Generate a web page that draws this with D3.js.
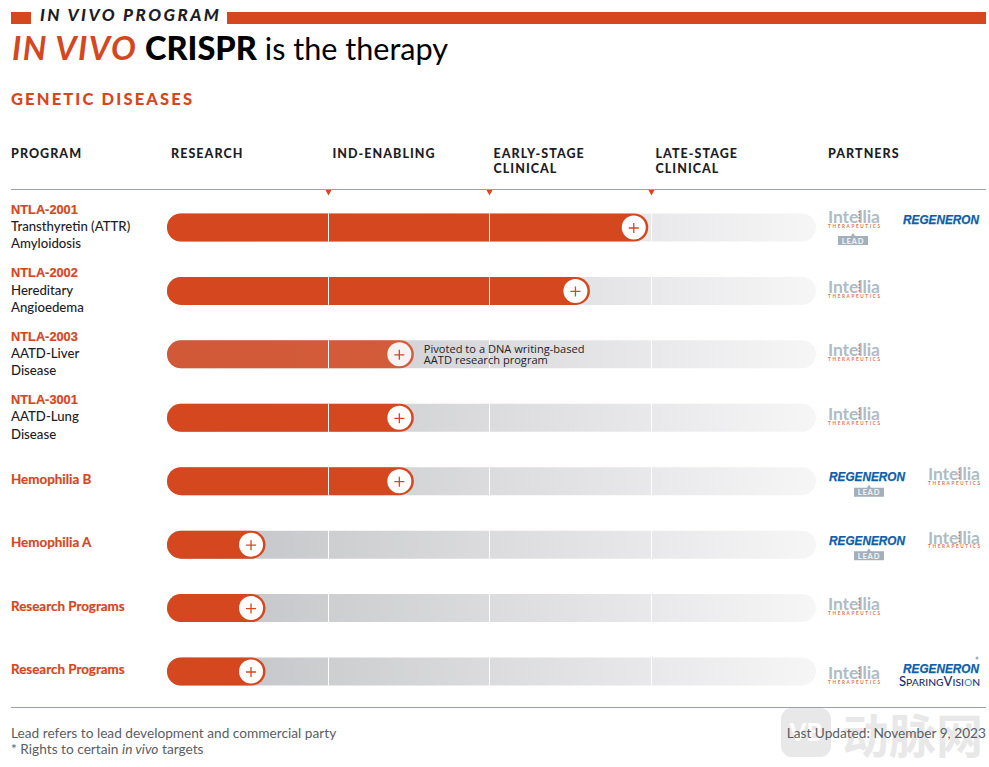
<!DOCTYPE html>
<html>
<head>
<meta charset="utf-8">
<script src="https://cdn.jsdelivr.net/npm/d3@7"></script>
<style>
  html, body { margin: 0; padding: 0; background: #fff; }
  svg { display: block; }
  text { font-family: Lato, sans-serif; }
</style>
</head>
<body>
<svg id="chart"></svg>
<script>
const stages = ['RESEARCH', 'IND-ENABLING', 'EARLY-STAGE|CLINICAL', 'LATE-STAGE|CLINICAL'];
const programs = ['NTLA-2001', 'NTLA-2002', 'NTLA-2003', 'NTLA-3001', 'Hemophilia B', 'Hemophilia A', 'Research Programs', 'Research Programs'];
const indications = ['Transthyretin (ATTR)|Amyloidosis', 'Hereditary|Angioedema', 'AATD-Liver|Disease', 'AATD-Lung|Disease', '', '', '', ''];
// progress in stage units, 1 = end of research, 2 = end of IND-enabling ...
const progress = [2.98, 2.62, 1.53, 1.53, 1.53, 0.61, 0.61, 0.61];
const pivoted = [false, false, true, false, false, false, false, false];
const leftPartner = ['Intellia', 'Intellia', 'Intellia', 'Intellia', 'Regeneron', 'Regeneron', 'Intellia', 'Intellia'];
const rightPartner = ['Regeneron', '', '', '', 'Intellia', 'Intellia', '', 'RegeneronSparing'];
const leadFlag = [true, false, false, false, true, true, false, false];
const pivotNote = ['Pivoted to a DNA writing-based', 'AATD research program'];
const footnotes = ['Lead refers to lead development and commercial party'];

const width = 989, height = 767;
const orange = '#d4471f', ink = '#1d1d25', rule = '#9ba1a8', grey = '#5a5e64';

const svg = d3.select('#chart').attr('width', width).attr('height', height);

const x = d3.scaleLinear().domain([0, 1, 2, 3, 4]).range([167, 328.5, 489.5, 651.5, 816]);
const y = d3.scalePoint().domain(d3.range(programs.length)).range([227.5, 671.5]);
const barH = 28;

const defs = svg.append('defs');
const grad = defs.append('linearGradient').attr('id', 'track')
  .attr('gradientUnits', 'userSpaceOnUse').attr('x1', x(0)).attr('x2', x(4));
grad.append('stop').attr('offset', 0).attr('stop-color', '#c0c1c4');
grad.append('stop').attr('offset', 1).attr('stop-color', '#f6f6f7');

// header
svg.append('rect').attr('x', 11).attr('y', 12).attr('width', 20).attr('height', 12).attr('fill', orange);
svg.append('rect').attr('x', 227).attr('y', 12).attr('width', 759).attr('height', 12).attr('fill', orange);
svg.append('text').attr('x', 40).attr('y', 21).text('IN VIVO PROGRAM')
  .attr('font-size', 17).attr('font-weight', 900).attr('font-style', 'italic')
  .attr('letter-spacing', 2.45).attr('fill', ink);

const title = svg.append('text').attr('x', 12).attr('y', 60).attr('fill', '#000');
title.append('tspan').text('IN VIVO').attr('fill', orange).attr('font-size', 33)
  .attr('font-style', 'italic').attr('font-weight', 700).attr('letter-spacing', 1.4);
title.append('tspan').text(' CRISPR').attr('font-size', 32.6).attr('font-weight', 900);
title.append('tspan').text(' is the therapy').attr('font-size', 30.6).attr('font-weight', 400);

svg.append('text').attr('x', 11).attr('y', 105).text('GENETIC DISEASES')
  .attr('font-size', 16.5).attr('font-weight', 900).attr('letter-spacing', 2.15).attr('fill', orange);

// column heads
const headStyle = s => s.attr('font-size', 12.5).attr('font-weight', 900).attr('letter-spacing', 1.05).attr('fill', ink);
headStyle(svg.append('text').attr('x', 11).attr('y', 158).text('PROGRAM'));
headStyle(svg.append('text').attr('x', 828).attr('y', 158).text('PARTNERS'));
stages.forEach((s, i) => {
  const t = headStyle(svg.append('text').attr('y', 158));
  s.split('|').forEach((line, j) => {
    t.append('tspan').attr('x', x(i) + 4).attr('y', 158 + j * 15).text(line);
  });
});

svg.append('line').attr('x1', 11).attr('x2', 986).attr('y1', 189.5).attr('y2', 189.5).attr('stroke', rule);
svg.append('line').attr('x1', 11).attr('x2', 986).attr('y1', 707.5).attr('y2', 707.5).attr('stroke', rule);

svg.selectAll('path.tick').data([1, 2, 3]).join('path')
  .attr('class', 'tick')
  .attr('d', d => `M${x(d) - 3},190L${x(d) + 3},190L${x(d)},195.5Z`)
  .attr('fill', orange);

// rows
const rows = svg.selectAll('g.row').data(programs).join('g').attr('class', 'row');

rows.append('rect').attr('class', 'track')
  .attr('x', x(0)).attr('width', x(4) - x(0))
  .attr('y', (d, i) => y(i) - barH / 2).attr('height', barH)
  .attr('rx', 14).attr('fill', 'url(#track)');

rows.append('rect').attr('class', 'bar')
  .attr('x', x(0)).attr('width', (d, i) => x(progress[i]) - x(0))
  .attr('y', (d, i) => y(i) - barH / 2).attr('height', barH)
  .attr('rx', 14).attr('fill', orange)
  .attr('opacity', (d, i) => pivoted[i] ? 0.85 : 1);

[1, 2, 3].forEach(s => {
  rows.append('line')
    .attr('x1', x(s)).attr('x2', x(s))
    .attr('y1', (d, i) => y(i) - barH / 2).attr('y2', (d, i) => y(i) + barH / 2)
    .attr('stroke', '#fff').attr('stroke-width', 1);
});

const knobX = i => x(progress[i]) - 14.5;
rows.append('circle')
  .attr('cx', (d, i) => knobX(i)).attr('cy', (d, i) => y(i)).attr('r', 12)
  .attr('fill', (d, i) => pivoted[i] ? '#f5f4f3' : '#fff');
rows.append('path')
  .attr('d', (d, i) => `M${knobX(i) - 5},${y(i) + 0.5}H${knobX(i) + 5}M${knobX(i)},${y(i) - 4.5}V${y(i) + 5.5}`)
  .attr('stroke', orange).attr('stroke-width', 1.3).attr('fill', 'none');

// row labels: NTLA codes are set in a plainer face than the disease names
rows.append('text')
  .attr('x', 11)
  .attr('y', (d, i) => indications[i] ? y(i) - 13.7 : y(i) + 2.8)
  .style('font-family', (d, i) => indications[i] ? '"Liberation Sans", sans-serif' : 'Lato, sans-serif')
  .attr('font-size', (d, i) => indications[i] ? 12.8 : 13.4)
  .attr('font-weight', 700)
  .attr('fill', orange).attr('stroke', orange).attr('stroke-width', 0.2)
  .text(d => d);

rows.each(function (d, i) {
  if (!indications[i]) return;
  indications[i].split('|').forEach((line, j) => {
    d3.select(this).append('text')
      .attr('x', 11).attr('y', y(i) + 3.7 + j * 17.2)
      .attr('font-size', 13.2).attr('font-weight', 500).attr('fill', ink)
      .text(line);
  });
});

// pivot note
svg.append('g').selectAll('text').data(pivotNote).join('text')
  .attr('x', x(progress[2]) + 10)
  .attr('y', (d, i) => y(2) + (i ? 9.5 : -1.5))
  .style('font-family', '"Open Sans", sans-serif')
  .attr('font-size', 11.1).attr('fill', ink)
  .text(d => d);

// partner logos, drawn as text. base = baseline of the main word
function intellia(g, px, base) {
  g.append('text').attr('x', px).attr('y', base).text('Intellia')
    .attr('font-size', 17.5).attr('font-weight', 700).attr('fill', '#aebcc6')
    .attr('textLength', 52).attr('lengthAdjust', 'spacing');
  g.append('g').selectAll('rect').data([-12, -9, -6, -3]).join('rect')
    .attr('x', px + 30.5).attr('y', d => base + d).attr('width', 1.6).attr('height', 1.6).attr('fill', '#e0714d');
  g.append('text').attr('x', px).attr('y', base + 4.8).text('THERAPEUTICS')
    .attr('font-size', 4.6).attr('font-weight', 700).attr('fill', '#e0714d').attr('textLength', 52);
}
function regeneron(g, px, base) {
  g.append('text').attr('x', px).attr('y', base).text('REGENERON')
    .style('font-family', '"Liberation Sans", sans-serif')
    .attr('font-size', 12.6).attr('font-weight', 700).attr('font-style', 'italic')
    .attr('fill', '#0c5ea8').attr('stroke', '#0c5ea8').attr('stroke-width', 0.25)
    .attr('textLength', 76).attr('lengthAdjust', 'spacingAndGlyphs');
}
function sparing(g, px, base) {
  const t = g.append('text').attr('x', px).attr('y', base)
    .attr('font-weight', 500).attr('fill', '#23306f')
    .attr('textLength', 81).attr('lengthAdjust', 'spacingAndGlyphs');
  t.append('tspan').text('S').attr('font-size', 12.5);
  t.append('tspan').text('PARING').attr('font-size', 9.8);
  t.append('tspan').text('V').attr('font-size', 12.5);
  t.append('tspan').text('ISI').attr('font-size', 9.8);
  t.append('tspan').text('O').attr('font-size', 9.8).attr('fill', '#2f9fc0');
  t.append('tspan').text('N').attr('font-size', 9.8);
}
function leadBadge(g, cx, py) {
  g.append('path')
    .attr('d', `M${cx - 15},${py}H${cx - 2}L${cx},${py - 3}L${cx + 2},${py}H${cx + 15}V${py + 9}H${cx - 15}Z`)
    .attr('fill', '#a3b0bb');
  g.append('text').attr('x', cx).attr('y', py + 7.5).attr('text-anchor', 'middle').text('LEAD')
    .attr('font-size', 7.6).attr('font-weight', 900).attr('letter-spacing', 0.8).attr('fill', '#eef1f3');
}

rows.each(function (d, i) {
  const g = d3.select(this);
  const cy = y(i);
  if (leftPartner[i] === 'Intellia') {
    const shift = i === 0 ? -4.5 : i === 7 ? 7.5 : 2;
    intellia(g, 828, cy + shift);
    if (leadFlag[i]) leadBadge(g, 853, cy + 8.5);
  } else {
    regeneron(g, 829, cy);
    if (leadFlag[i]) leadBadge(g, 869, cy + 6.5);
  }
  if (rightPartner[i] === 'Regeneron') regeneron(g, 903, cy - 3.5);
  if (rightPartner[i] === 'Intellia') intellia(g, 928, cy - 1);
  if (rightPartner[i] === 'RegeneronSparing') {
    regeneron(g, 903, cy + 1.5);
    sparing(g, 899, cy + 14.5);
    g.append('circle').attr('cx', 977).attr('cy', cy - 13.5).attr('r', 1.5).attr('fill', '#9fb0bd');
  }
});

// watermark sits behind the footer date
const mark = svg.append('g').attr('fill', '#e8e8e8');
mark.append('rect').attr('x', 781).attr('y', 708).attr('width', 50).attr('height', 49).attr('rx', 11);
mark.append('text').attr('x', 806).attr('y', 741).attr('text-anchor', 'middle').text('VB')
  .attr('font-size', 24).attr('font-weight', 900).attr('fill', '#fff');
mark.append('text').attr('x', 842).attr('y', 753).text('动脉网')
  .style('font-family', '"Noto Sans CJK SC", sans-serif')
  .attr('font-size', 47).attr('font-weight', 700);

// footer
svg.append('text').attr('x', 11).attr('y', 738).attr('font-size', 13.7).attr('fill', grey).text(footnotes[0]);
const note = svg.append('text').attr('x', 11).attr('y', 754).attr('font-size', 13.7).attr('fill', grey);
note.append('tspan').text('* Rights to certain ');
note.append('tspan').text('in vivo').attr('font-style', 'italic');
note.append('tspan').text(' targets');
svg.append('text').attr('x', 986).attr('y', 738).attr('text-anchor', 'end')
  .attr('font-size', 13.7).attr('fill', grey).text('Last Updated: November 9, 2023');
</script>
</body>
</html>
